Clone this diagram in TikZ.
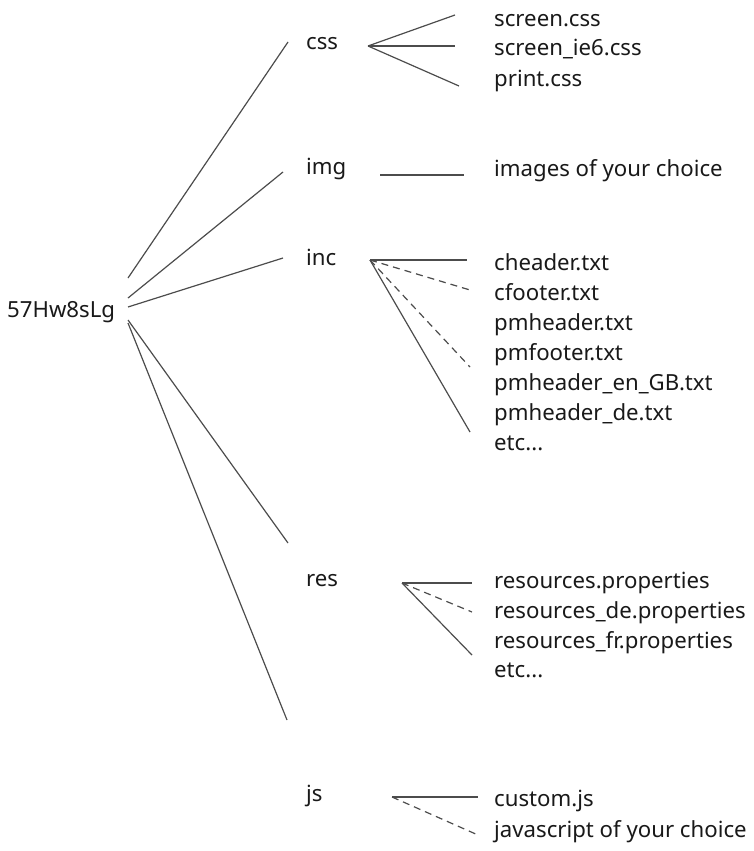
\documentclass[tikz,border=0pt]{standalone}
\usepackage{fontspec}
\setmainfont{Noto Sans}

\begin{document}
\begin{tikzpicture}[x=1pt,y=-1pt,
  lbl/.style={anchor=base west,inner sep=0pt,font=\fontsize{22.2}{26}\selectfont,black!90},
  link/.style={black!70,line width=1.2pt},
  dlink/.style={link,dash pattern=on 7pt off 5pt}]
\useasboundingbox (0,0) rectangle (753,851);
% top level folders
\node[lbl] (root) at (7,317) {57Hw8sLg};
\node[lbl] (css) at (306,50) {css};
\node[lbl] (img) at (306,174) {img};
\node[lbl] (inc) at (306,265) {inc};
\node[lbl] (res) at (306,586) {res};
\node[lbl] (js) at (306,801) {js};
% files
\node[lbl] (screen) at (494,27) {screen.css};
\node[lbl] (screenie) at (494,56) {screen\_ie6.css};
\node[lbl] (print) at (494,86) {print.css};
\node[lbl] (images) at (494,176) {images of your choice};
\node[lbl] (cheader) at (494,270) {cheader.txt};
\node[lbl] (cfooter) at (494,300) {cfooter.txt};
\node[lbl] (pmheader) at (494,330) {pmheader.txt};
\node[lbl] (pmfooter) at (494,360) {pmfooter.txt};
\node[lbl] (pmheaderGB) at (494,390) {pmheader\_en\_GB.txt};
\node[lbl] (pmheaderde) at (494,420) {pmheader\_de.txt};
\node[lbl] (incetc) at (494,450) {etc...};
\node[lbl] (resprop) at (494,588) {resources.properties};
\node[lbl] (respropde) at (494,618) {resources\_de.properties};
\node[lbl] (respropfr) at (494,648) {resources\_fr.properties};
\node[lbl] (resetc) at (494,677) {etc...};
\node[lbl] (custom) at (494,806) {custom.js};
\node[lbl] (jsany) at (494,837) {javascript of your choice};
% line ends
\coordinate (rootA) at (128,278);
\coordinate (rootB) at (128,298);
\coordinate (rootC) at (128,307);
\coordinate (rootD) at (128,320);
\coordinate (rootE) at (128,323);
\coordinate (cssIn) at (288,42);
\coordinate (imgIn) at (283,172);
\coordinate (incIn) at (283,258);
\coordinate (resIn) at (288,543);
\coordinate (jsIn) at (287,720);
\coordinate (cssFan) at (368,46);
\coordinate (imgFan) at (380,175);
\coordinate (incFan) at (370,260);
\coordinate (resFan) at (402,583);
\coordinate (jsFan) at (392,797);
% root to folders
\draw[link] (rootA) -- (cssIn);
\draw[link] (rootB) -- (imgIn);
\draw[link] (rootC) -- (incIn);
\draw[link] (rootD) -- (resIn);
\draw[link] (rootE) -- (jsIn);
% folders to files
\draw[link] (cssFan) -- (455,15);
\draw[link] (cssFan) -- (455,46);
\draw[link] (cssFan) -- (459,86);
\draw[link] (imgFan) -- (464,175);
\draw[link] (incFan) -- (467,260);
\draw[dlink] (incFan) -- (470,290);
\draw[dlink] (incFan) -- (470,367);
\draw[link] (incFan) -- (470,432);
\draw[link] (resFan) -- (472,583);
\draw[dlink] (resFan) -- (472,612);
\draw[link] (resFan) -- (472,655);
\draw[link] (jsFan) -- (478,797);
\draw[dlink] (jsFan) -- (478,835);
\end{tikzpicture}
\end{document}
